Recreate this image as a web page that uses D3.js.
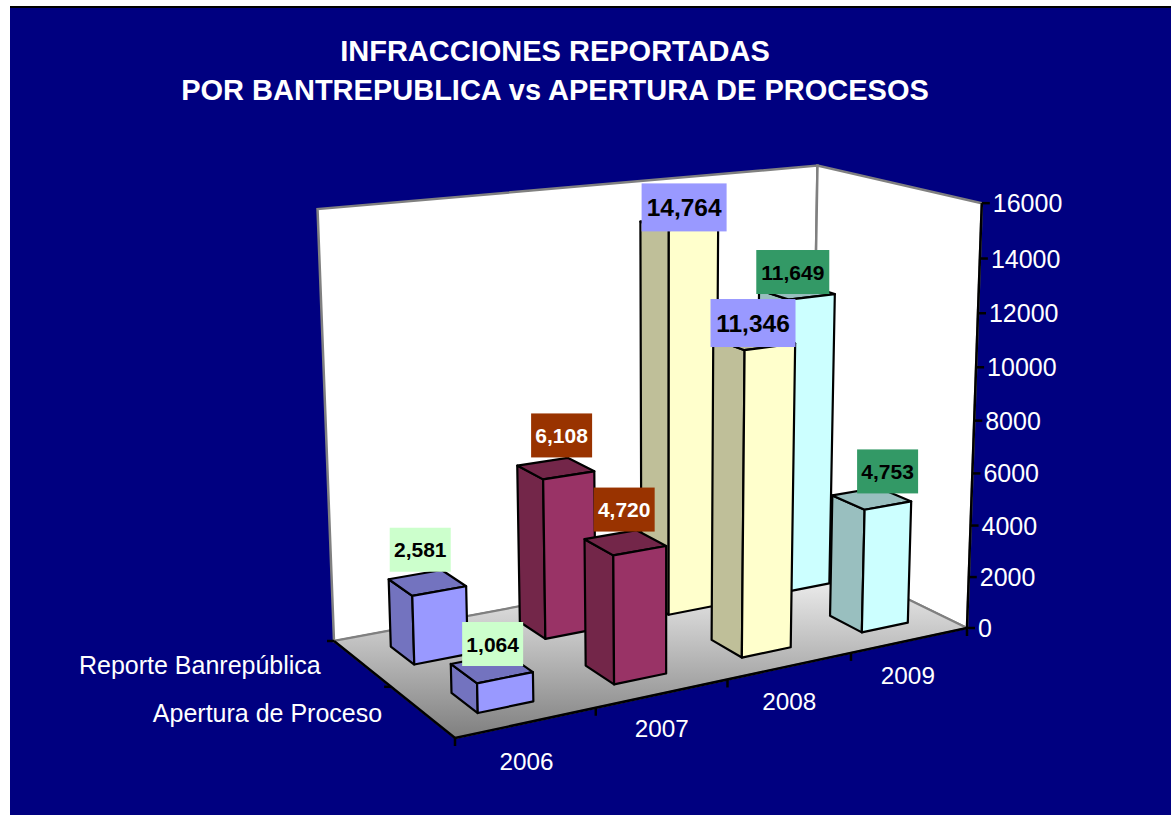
<!DOCTYPE html>
<html><head><meta charset="utf-8">
<script src="https://cdnjs.cloudflare.com/ajax/libs/d3/7.8.5/d3.min.js"></script>
<style>html,body{margin:0;padding:0;background:#fff}svg{display:block}text{font-family:"Liberation Sans",Arial,sans-serif}</style>
</head><body><svg id="c" width="1171" height="815"></svg>
<script>
const years = ["2006","2007","2008","2009"];
const seriesNames = ["Apertura de Proceso","Reporte Banrepública"];
const reporte = [2581,6108,14764,11649];
const apertura = [1064,4720,11346,4753];
const valueTicks = [0,2000,4000,6000,8000,10000,12000,14000,16000];
const titleLines = ["INFRACCIONES REPORTADAS","POR BANTREPUBLICA vs APERTURA DE PROCESOS"];
const barFront = ["#9999FF","#993366","#FFFFCC","#CCFFFF"];
const barSide  = ["#7373BF","#732649","#BFBF99","#99BFBF"];
const labelFill = ["#CCFFCC","#993300","#9999FF","#339966"];
const labelInk  = ["#000","#fff","#000","#000"];
const labelSize = [21,21,24.5,21];
// manual nudge of each data label from its bar's top centre: [series][year]
const nudgeReporte  = [[-7,-33],[6,-33],[5,-16],[-4,-20]];
const nudgeApertura = [[1,-24],[-1,-33],[-1,-18],[16,-27]];
const yearOff = [[0,47],[-1,44],[-1,44],[-2,44]];

// projective camera fitted to the box corners and tick marks
const uv=[[0,0],[1,0],[0,1],[1,1]];
const topPts = [[[1,0],[983,203]],[[0,1],[318,210]],[[1,1],[816,165]]];
const uTickPts = [[.25,[596,712]],[.5,[727,685]],[.75,[850,657]]];
const wTickPts = [[.25,576],[.5,421],[.75,313]];
function solve(A,b){const n=b.length;const M=A.map((r,i)=>[...r,b[i]]);
  for(let i=0;i<n;i++){let p=i;for(let k=i+1;k<n;k++)if(Math.abs(M[k][i])>Math.abs(M[p][i]))p=k;[M[i],M[p]]=[M[p],M[i]];
    for(let k=0;k<n;k++){if(k===i)continue;const f=M[k][i]/M[i][i];for(let j=i;j<=n;j++)M[k][j]-=f*M[i][j];}}
  return M.map((r,i)=>r[n]/r[i]);}
function camera(bx,by){
  const floorPts=[[455,738],[967,628],[334,641],[bx,by]];
  const HA=[],Hb=[];
  uv.forEach(([u,v],i)=>{const [x,y]=floorPts[i];
    HA.push([u,v,1,0,0,0,-u*x,-v*x]);Hb.push(x);
    HA.push([0,0,0,u,v,1,-u*y,-v*y]);Hb.push(y);});
  const [a,b,d,e,f,h,i0,j0]=solve(HA,Hb);
  const rows=[],rhs=[];
  topPts.forEach(([[u,v],[x,y]])=>{
    rows.push([1,0,-x]);rhs.push(x*(i0*u+j0*v+1)-(a*u+b*v+d));
    rows.push([0,1,-y]);rhs.push(y*(i0*u+j0*v+1)-(e*u+f*v+h));});
  const N=[0,1,2].map(r=>[0,1,2].map(c=>d3.sum(rows,q=>q[r]*q[c])));
  const Nb=[0,1,2].map(r=>d3.sum(rows,(q,k)=>q[r]*rhs[k]));
  const [c,g,k0]=solve(N,Nb);
  return (u,v,w)=>{const W=i0*u+j0*v+k0*w+1;return [(a*u+b*v+c*w+d)/W,(e*u+f*v+g*w+h)/W];};
}
function misfit(P){let s=0;const add=(p,x,y,k)=>{s+=k*((p[0]-x)**2+(p[1]-y)**2);};
  topPts.forEach(([[u,v],[x,y]])=>add(P(u,v,1),x,y,3));
  uTickPts.forEach(([u,[x,y]])=>add(P(u,0,0),x,y,1));
  wTickPts.forEach(([w,y])=>{s+=(P(1,0,w)[1]-y)**2;});
  return s;}
let proj=null,best=Infinity;
for(let bx=796;bx<=820;bx++)for(let by=538;by<=562;by++){const P=camera(bx,by),m=misfit(P);if(m<best){best=m;proj=P;}}

const uScale=d3.scaleBand().domain(years).range([0,1]).paddingInner(0.6).paddingOuter(0.3);
const vScale=d3.scaleBand().domain(seriesNames).range([0,1]).paddingInner(0.6).paddingOuter(0.3);
const wScale=d3.scaleLinear().domain([0,16000]).range([0,1]);
const poly=pts=>"M"+pts.map(p=>p.join(",")).join("L")+"Z";

const svg=d3.select("#c");
const defs=svg.append("defs");
const grad=defs.append("linearGradient").attr("id","floorGrad").attr("gradientUnits","userSpaceOnUse")
  .attr("x1",0).attr("x2",0).attr("y1",proj(1,1,0)[1]).attr("y2",proj(0,0,0)[1]);
grad.append("stop").attr("offset",0).attr("stop-color","#ffffff");
grad.append("stop").attr("offset",1).attr("stop-color","#7f7f7f");

svg.append("rect").attr("x",10).attr("y",6).attr("width",1161).attr("height",809).attr("fill","#000080");
svg.append("rect").attr("x",10).attr("y",6).attr("width",1161).attr("height",2).attr("fill","#000");

svg.append("g").selectAll("text").data(titleLines).join("text")
  .attr("x",555).attr("y",(t,i)=>61+i*39).attr("text-anchor","middle")
  .attr("font-size",29).attr("font-weight","bold").attr("fill","#fff").text(t=>t);

// walls and floor
const walls=svg.append("g");
walls.append("path").attr("d",poly([proj(0,1,0),proj(1,1,0),proj(1,1,1),proj(0,1,1)])).attr("fill","#fff").attr("stroke","#808080").attr("stroke-width",2.5);
walls.append("path").attr("d",poly([proj(1,1,0),proj(1,0,0),proj(1,0,1),proj(1,1,1)])).attr("fill","#fff").attr("stroke","#808080").attr("stroke-width",2.5);
walls.append("path").attr("d",poly([proj(0,0,0),proj(1,0,0),proj(1,1,0),proj(0,1,0)])).attr("fill","url(#floorGrad)").attr("stroke","#808080").attr("stroke-width",2);

// axes
const ax=svg.append("g").attr("stroke","#000").attr("stroke-width",2.5).attr("fill","none");
const line=(p,q)=>ax.append("line").attr("x1",p[0]).attr("y1",p[1]).attr("x2",q[0]).attr("y2",q[1]);
line(proj(0,1,0),proj(0,0,0));line(proj(0,0,0),proj(1,0,0));line(proj(1,0,0),proj(1,0,1));
line(proj(0,1,0),[proj(0,1,0)[0]-7,proj(0,1,0)[1]]);
d3.range(years.length+1).map(i=>i/years.length).forEach(u=>{const p=proj(u,0,0);line(p,[p[0],p[1]+8]);});
const pm=proj(0,0.5,0);line(pm,[pm[0]-7,pm[1]]);
valueTicks.forEach(t=>{const p=proj(1,0,wScale(t));line(p,[p[0]+8,p[1]]);});

// bars back to front
const labels=[];
function bar(vals,sName,nudges){
  const v0=vScale(sName),v1=v0+vScale.bandwidth();
  vals.forEach((val,i)=>{
    const u0=uScale(years[i]),u1=u0+uScale.bandwidth(),w=wScale(val);
    const g=svg.append("g").attr("stroke","#000").attr("stroke-width",2.2).attr("stroke-linejoin","round");
    g.append("path").attr("d",poly([proj(u0,v0,0),proj(u0,v1,0),proj(u0,v1,w),proj(u0,v0,w)])).attr("fill",barSide[i]);
    g.append("path").attr("d",poly([proj(u0,v0,w),proj(u1,v0,w),proj(u1,v1,w),proj(u0,v1,w)])).attr("fill",barSide[i]);
    g.append("path").attr("d",poly([proj(u0,v0,0),proj(u1,v0,0),proj(u1,v0,w),proj(u0,v0,w)])).attr("fill",barFront[i]);
    const t=proj((u0+u1)/2,(v0+v1)/2,w);
    labels.push({x:t[0]+nudges[i][0],y:t[1]+nudges[i][1],i,val});
  });
}
bar(reporte,seriesNames[1],nudgeReporte);
bar(apertura,seriesNames[0],nudgeApertura);

const fmt=d3.format(",");
const big=d=>d.i===2, wide=d=>d.i===3&&d.val>9999;
const lw=d=>big(d)?85:wide(d)?73:61, lh=d=>big(d)?48:44;
const lg=svg.append("g").selectAll("g").data(labels).join("g").attr("transform",d=>`translate(${d.x},${d.y})`);
lg.append("rect").attr("x",d=>-lw(d)/2).attr("width",lw).attr("y",d=>-lh(d)/2).attr("height",lh).attr("fill",d=>labelFill[d.i]);
lg.append("text").attr("text-anchor","middle").attr("y",d=>labelSize[d.i]*0.36)
  .attr("font-size",d=>labelSize[d.i]).attr("font-weight","bold")
  .attr("fill",d=>labelInk[d.i]).text(d=>fmt(d.val));

// axis labels
const tx=svg.append("g").attr("fill","#fff").attr("font-size",24.3);
valueTicks.forEach(t=>{const p=proj(1,0,wScale(t));tx.append("text").attr("x",p[0]+11).attr("y",p[1]+9).attr("font-size",25).text(t);});
years.forEach((y,i)=>{const p=proj((i+.5)/years.length,0,0);tx.append("text").attr("x",p[0]+yearOff[i][0]).attr("y",p[1]+yearOff[i][1]).attr("text-anchor","middle").text(y);});
const pR=proj(0,.75,0),pA=proj(0,.25,0);
tx.append("text").attr("x",pR[0]-41).attr("y",pR[1]+11).attr("text-anchor","end").attr("font-size",25).text(seriesNames[1]);
tx.append("text").attr("x",pA[0]-40).attr("y",pA[1]+10).attr("text-anchor","end").attr("font-size",25).text(seriesNames[0]);
</script></body></html>
